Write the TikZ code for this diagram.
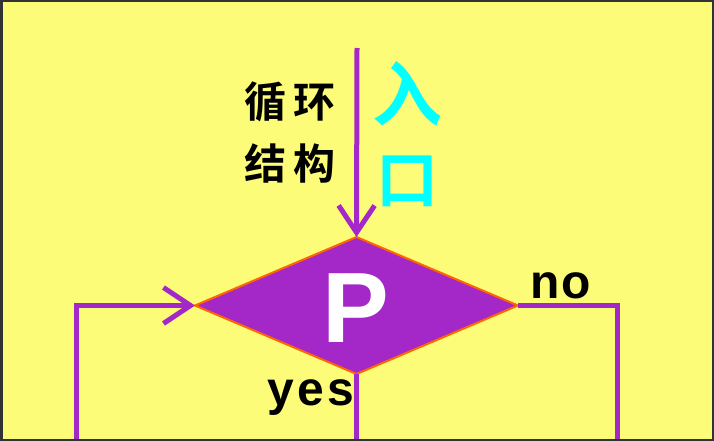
\documentclass[tikz,border=0pt]{standalone}
\usepackage{fontspec}
\setmainfont{Liberation Sans}
\newfontfamily\cjk{Noto Sans CJK SC Bold}
\newfontfamily\cjkb{Noto Sans CJK SC Bold}
\usetikzlibrary{shapes.geometric,arrows.meta}
\definecolor{bgyellow}{RGB}{252,252,120}
\definecolor{flowpurple}{RGB}{164,40,200}
\definecolor{edgeorange}{RGB}{255,102,0}
\definecolor{entrycyan}{RGB}{0,255,255}
\tikzset{
  flow/.style={draw=flowpurple,line width=5pt},
  flowarrow/.style={flow,-{Straight Barb[length=27pt,width=36pt,line width=5pt]}},
  decision/.style={diamond,fill=flowpurple,draw=edgeorange,line width=2pt,
    minimum width=323pt,minimum height=137pt,inner sep=0pt,outer sep=0pt},
  lbl/.style={font=\bfseries\fontsize{48}{48}\selectfont,inner sep=0pt},
}
\begin{document}
\begin{tikzpicture}[x=1pt,y=-1pt]
\useasboundingbox (0,0) rectangle (714,441);
\fill[bgyellow] (0,0) rectangle (714,441);
\node[decision] (d) at (356.5,305.5) {};
\node[font=\bfseries\fontsize{100}{100}\selectfont,text=white,anchor=base,inner sep=0pt] (p) at (356,342) {P};
\coordinate (entry) at (357,48);
\coordinate (lb) at (76,441);
\coordinate (lc) at (76,305.5);
\coordinate (rc) at (617,305.5);
\coordinate (rb) at (617,441);
\coordinate (bb) at (356.5,441);
\draw[flowarrow] (entry) -- (d.north);
\draw[flowarrow,line join=miter] (lb) -- (lc) -- (d.west);
\draw[flow,line join=miter] (d.east) -- (rc) -- (rb);
\draw[flow] (d.south) -- (bb);
\node[lbl,anchor=base] (no) at (561,298) {n\hspace{2pt}o};
\node[lbl,anchor=base] (yes) at (311,405) {y\hspace{3pt}e\hspace{3pt}s};
\node[font=\cjk\fontsize{42}{42}\selectfont,inner sep=0pt] (t1) at (290,102) {循\hspace{8pt}环};
\node[font=\cjk\fontsize{42}{42}\selectfont,inner sep=0pt] (t2) at (290,164) {结\hspace{8pt}构};
\node[font=\cjkb\fontsize{70}{70}\selectfont,text=entrycyan,inner sep=0pt] (e1) at (407,94) {入};
\node[font=\cjkb\fontsize{62}{62}\selectfont,text=entrycyan,inner sep=0pt] (e2) at (407,181) {口};
\draw[black!80,line width=2.5pt] (1.25,1.25) rectangle (712.75,439.75);
\end{tikzpicture}
\end{document}
